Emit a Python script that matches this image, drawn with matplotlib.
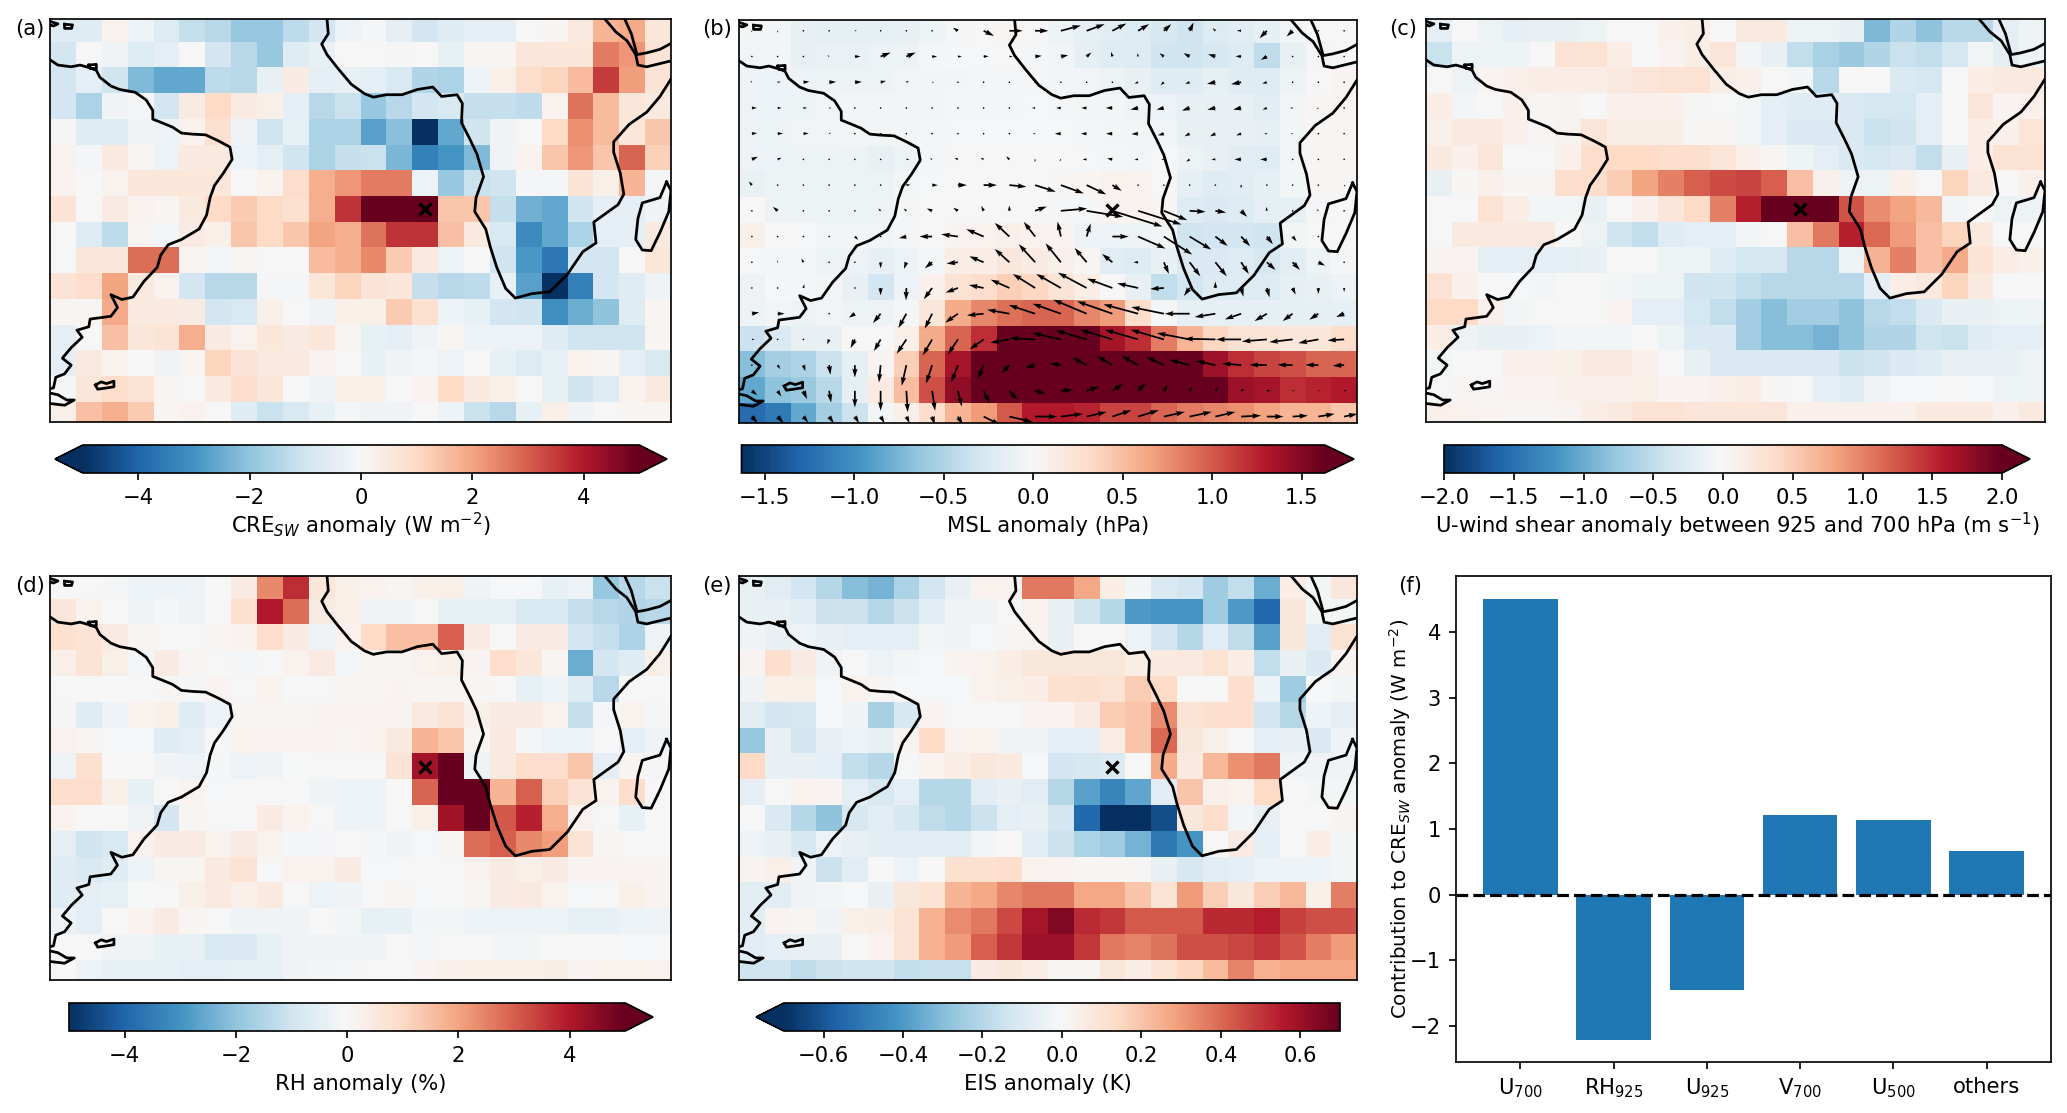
import numpy as np
import matplotlib
matplotlib.use('Agg')
import matplotlib.pyplot as plt

# values, rows from top to bottom
cre_sw = np.array([
    [-.6,-.6,.2,-.3,-.7,-1.2,-1.4,-1.9,-1.9,-1.3,-.9,-.3,-.1,-.5,-.9,-.6,-.5,-.5,0,.1,.5,1.7,1.9,.6],
    [-.9,0,-.2,-.7,-.5,0,-.9,-1.4,-1.9,-.6,-.4,0,0,-.1,0,-.4,.1,.1,.6,.6,.6,2.6,2.2,.7],
    [-.9,-.5,-1,-2.2,-2.6,-2.6,-1.3,-1.4,-.4,.4,-.5,-.4,-.5,-.8,-1.5,-1.6,-.3,.3,.9,1.1,1.6,3.5,2.1,.7],
    [-.9,-1.6,-.2,-.1,-.9,.4,1,.4,.3,-.5,-1.4,-1.1,-1.9,-1.4,-.9,-.8,-1.2,-1.2,-1.3,.2,2.7,1.6,.6,.5],
    [-.1,-.6,-.7,-.2,-.3,.2,.8,-.2,-1,-.4,-1.6,-1.6,-2.7,-2.1,-5,-2.6,-1,-.2,0,1,2.3,1.6,.6,1.4],
    [.2,-.1,.5,.1,-.3,.5,.5,-.3,-.5,-1,-1.6,-1.2,-1.1,-2.3,-3.4,-3,-2.2,-.2,.2,1.4,2.2,1.4,2.9,1.2],
    [.2,0,.2,.6,.6,.6,.6,0,.2,.9,1.8,2.2,2.6,2.6,-.3,-1.9,-1.1,-1,-.1,-.1,.7,.3,1.7,-.1],
    [.7,0,.4,.2,.1,.5,1,1.3,1,.8,1.8,3.6,5,5,5,1.4,1.4,-1.2,-2.4,-2.6,-1,-.5,-.5,-.2],
    [0,-.7,-1.3,.1,-.1,.4,.3,1.4,1,1.4,2,1.8,2.7,3.6,3.6,1.5,.5,-.8,-3.2,-2.6,-1.6,-.5,-.5,.5],
    [0,.6,.6,2.8,2.8,.1,-.1,.1,0,0,1.6,1.8,2.4,1.3,.5,-.3,0,-1,-2.9,-3.6,-.9,-.9,0,.6],
    [.7,.9,2,.5,.2,-.9,-1.4,-1.4,-.1,-.1,.6,1.1,.7,.6,-1.2,-1.4,-1.3,-.4,-2.7,-5,-3.4,-.9,-.6,-.3],
    [.1,.1,1.9,.5,.5,.4,-.9,-.8,.3,0,-.2,.3,.3,1.3,.8,-.3,-.4,-.9,-1,-3.1,-2.5,-2,-.6,.1],
    [-.5,0,1.5,.6,.7,1.8,.4,.2,.6,.4,.6,.1,-.4,-.5,-.2,.1,-.3,-.3,-.3,-.6,-1,-1,-1,.1],
    [-.5,.5,.2,0,-.2,.1,1.1,.7,.5,.5,.2,0,-.4,-.2,-.1,-.3,0,-.4,-.7,-.4,.2,.1,-.5,-.8],
    [-.1,.6,.9,.7,.1,0,.5,.9,.6,0,-.2,.3,.3,0,.2,1,.5,.3,0,-.4,-1,-.7,.2,.5],
    [.3,1.5,1.8,1.3,.1,.2,0,-.6,-1.1,-.8,-.4,-.1,-.2,-.2,0,-.3,-1.1,-1.4,-.4,.3,-.2,0,.1,.1],
])

msl = np.array([
    [-.05,-.05,-.12,-.15,-.15,-.15,-.12,-.08,-.03,0,.03,0,-.08,-.15,-.18,-.22,-.28,-.32,-.22,-.18,-.15,-.06,0,0],
    [-.06,-.05,-.12,-.11,-.11,-.09,-.08,-.03,-.02,-.02,0,-.03,-.06,-.15,-.2,-.22,-.32,-.32,-.27,-.22,-.42,-.12,-.03,0],
    [-.1,-.1,-.1,-.08,-.08,-.08,-.06,-.05,-.05,-.03,-.03,-.03,-.05,-.06,-.08,-.12,-.2,-.2,-.15,-.2,-.2,-.08,0,.04],
    [-.09,-.09,-.08,-.06,-.05,-.05,-.05,-.05,-.03,-.03,-.03,-.02,-.03,-.05,-.05,-.08,-.1,-.12,-.12,-.12,-.18,-.05,.02,.03],
    [-.09,-.08,-.06,-.06,-.05,-.05,-.05,-.03,-.02,-.02,-.02,-.02,-.02,-.03,-.05,-.05,-.06,-.12,-.12,-.12,-.15,-.05,.02,.03],
    [-.1,-.1,-.08,-.08,-.08,-.12,-.08,-.03,0,0,0,0,0,-.02,-.03,-.05,-.02,-.08,-.12,-.18,-.2,-.05,.02,.03],
    [-.12,-.08,-.08,-.08,-.08,-.08,-.05,-.02,0,0,0,0,.02,.03,.07,.07,0,-.15,-.2,-.18,-.15,-.05,.02,.02],
    [0,-.08,-.08,-.08,-.08,-.08,-.03,0,0,0,0,0,-.03,-.03,.04,.07,.03,-.22,-.25,-.22,-.15,-.15,-.03,0],
    [.1,0,-.02,-.05,-.05,-.06,-.03,0,.04,.07,.1,.07,.04,-.1,-.1,-.08,-.05,-.32,-.3,-.3,-.32,-.05,0,0],
    [-.02,-.03,-.03,-.08,-.1,-.15,-.09,-.03,.12,.12,.18,.14,.08,.02,-.18,-.22,-.12,-.25,-.25,-.22,-.27,-.18,-.08,-.03],
    [-.09,-.02,-.03,-.05,-.12,-.3,-.1,.08,.25,.3,.4,.35,.22,.12,0,-.12,-.4,-.3,-.22,-.22,-.22,-.15,-.12,-.09],
    [-.08,-.06,-.08,-.06,-.08,-.08,-.03,.2,.6,.8,.9,.95,.95,.8,.7,.3,-.03,-.15,-.15,-.15,-.15,-.15,-.15,-.15],
    [-.35,-.25,-.12,-.12,0,.01,.1,.6,.95,1.2,1.7,1.7,1.7,1.7,1.35,1.2,.85,.55,.35,.25,.22,.2,.2,.3],
    [-.7,-.55,-.5,-.35,-.15,.05,.4,.95,1.35,1.7,1.7,1.7,1.7,1.7,1.7,1.7,1.7,1.65,1.4,1.2,1.1,1.05,.95,.95],
    [-.85,-.65,-.6,-.45,-.15,.15,.5,1.05,1.45,1.7,1.7,1.7,1.7,1.7,1.7,1.7,1.7,1.7,1.7,1.4,1.35,1.2,1.25,1.3],
    [-1.25,-1.15,-.85,-.55,-.35,-.05,.1,.3,.55,.7,1,1.3,1.3,1.25,1.1,1.1,.95,.85,.8,.75,.65,.55,.55,.45],
])

# wind anomaly arrows of panel (b)
wind_u = np.array([
    [-.2,0,-.3,-.3,.6,.2,.1,.3,-1.5,3.1,4,4,6,5.4,4.2,3.3,2.2,1.2,-.8,-1.3,-2.2,-1.8,0,.2],
    [.2,-.1,-.4,-.5,1.7,3,2.8,1.5,1.2,1.5,1,2,2.2,1.4,-.4,-.2,-1.3,-1.8,-2.2,-1.7,-1.8,-.3,.2,.2],
    [-.5,.9,1.8,2.1,2.1,1.6,.8,.6,.2,.2,.2,.2,.2,.2,.5,-1.1,-1,-1.3,-2.5,-3,-1.4,.2,.1,.2],
    [1.5,1.2,1.1,.7,.2,.2,.3,.1,.3,.3,.3,-1,-1.4,-1.6,-2,-2.3,-2.2,-2.3,-2.4,-2.4,-1.3,-.8,-.5,.1],
    [1.6,1.6,1.6,.6,.3,.1,.1,.1,.2,.2,.3,-.7,-1.8,-1.7,-1.9,-2,-1.8,-1.5,-1.6,-1.5,-.8,-.6,.2,.2],
    [1.8,1.2,.3,.2,.4,.1,.9,-.7,-1,-.9,-1,-.1,-.4,-1.2,-1.6,-1.1,-.8,-1,-1.2,-2,-2,-.4,.2,.1],
    [-.9,.2,.3,.2,.1,.1,1.2,1.7,2.7,4,5.1,6.2,6.9,5.9,2.8,.2,.1,.1,.3,0,.3,.2,.2,.4],
    [.1,-1.4,.1,-.2,.2,-.7,-.8,-1.6,-1.4,-.7,0,3.5,7.9,11,15,13,7,4.8,3.2,1.8,-.2,.2,-.5,.1],
    [.1,-.1,-.2,.1,1,-.1,-2.2,-3.8,-5,-5.2,-4.4,-3.4,-1,1.2,4.9,8.2,8.5,6.5,3.7,2.7,1.8,1.2,.1,0],
    [.1,0,-.6,.2,.2,0,-.7,-2.2,-3.4,-4.3,-4.4,-4.9,-4.6,-3.6,-3.1,-1.4,1.5,3.2,3.4,2.3,2.6,2.2,2,.2],
    [.2,.2,.3,.2,.2,0,-.1,-2.5,-3.7,-4.4,-5.6,-6.7,-7.4,-8.6,-7.6,-6.3,-4.1,-1.7,0,.7,.8,.9,0,0],
    [2.2,2.1,.1,.1,-1.8,-2.3,-2.4,-2.2,-3.8,-5,-6.7,-7.9,-8.5,-10,-10.6,-10.4,-9.8,-7.5,-6.2,-4.9,-3.7,-3,-2.7,-2.4],
    [.8,.2,.1,-.6,-1.3,-2,-2.9,-2.8,-3,-4.2,-5.7,-7.7,-8.5,-9.3,-9.7,-10,-10,-9.8,-9.3,-7.5,-7.5,-7,-6,-5],
    [.2,.8,.6,.4,0,-.5,-1.4,-1.8,-2,-1.7,-2.4,-3,-3.4,-4.3,-4.7,-4.9,-5.3,-6,-5.8,-5.7,-5.2,-4.5,-3.9,-3.4],
    [1.6,1.1,1.1,.6,0,0,.4,.9,1.2,1.8,2.4,3.1,3.6,3.7,3.1,2.2,1.1,.8,.9,1,1.2,.7,.6,.8],
    [1.8,1.8,1.5,1.4,1.3,1.2,1,.8,1.5,5,7,6.6,6.6,6,5.7,6.2,6.3,6.6,6,6,5,4.6,4.9,4],
])
wind_v = np.array([
    [-.5,-.6,.4,.3,.1,.4,.3,0,.9,-1.5,0,0,1.6,2,2.2,2,2,2.5,.8,.1,-2.2,-1.7,0,-.4],
    [0,.3,.3,.4,0,1.2,1.2,0,0,.1,0,.2,.4,1.2,1.4,1,1,1,.7,.1,-1,-.3,0,0],
    [.4,.1,.2,.1,.1,.4,.4,0,0,0,0,0,0,0,0,-.4,-.9,-.5,-.5,-.6,-.4,0,0,0],
    [0,0,0,0,0,0,0,0,0,0,0,0,0,0,0,-.5,-.5,-.8,-.5,-.5,-.5,0,-.4,0],
    [.2,.1,.1,.3,0,0,0,0,0,0,0,0,0,0,0,-.1,-.5,-.8,-.8,-.5,0,0,0,0],
    [.8,.5,0,.2,0,0,0,.3,.5,.5,.9,-.8,-.6,0,.3,0,0,-.7,0,0,0,0,0,0],
    [1.1,0,.4,0,0,.3,.1,0,0,0,-.5,-2,-2.5,-2.8,-1.7,0,0,0,-.2,-1,-.4,0,0,-.5],
    [0,1.2,0,.2,0,.7,.7,.7,.9,1.5,1.6,1.3,.7,-1.8,-4.7,-4.1,-2.8,-.3,-.5,-1.8,1.2,0,.5,-.2],
    [0,.3,.4,0,-1,.1,-.5,0,.7,2.2,4.1,4.4,4.5,3.9,0,-3.6,-5.4,-3.9,-2.8,-2.9,-2.3,-1.4,0,-.5],
    [0,.6,1.1,0,0,-1.8,-2,-1.8,-.4,1.8,4,5.4,5.7,4.3,2.5,0,-3.5,-4.2,-4.2,-3.5,-2.3,-2.3,-1,0],
    [0,0,1.1,0,0,-2.2,-3.7,-3.4,-1.4,.9,2.5,4.2,4.2,4.6,2.8,1.4,-.3,-2.4,1.9,-2.6,-2.8,-2,-1.8,-1.2],
    [.4,0,0,0,-1.2,-2.8,-4.3,-4.5,-2.7,-.5,1.2,2.6,3,4.2,3.7,2.8,2,0,-1,-1.7,-2.2,-2.2,-1.8,-1],
    [0,-.1,0,-1.5,-2.6,-3.5,-4.3,-4.8,-4.5,-3,-1,.4,1.9,2.7,2.9,2.9,2.9,1.9,.2,0,-.6,-.8,-1.1,-.3],
    [0,-1.2,-1.8,-2.9,-3.7,-5.2,-6.2,-5.5,-5.2,-4.2,-2.5,-.7,.5,2.3,2.8,2.8,2.5,1.6,1.3,.5,.1,.1,.1,-.2],
    [-1.3,-1.7,-2.5,-3.5,-5,-6,-6.4,-6,-4.7,-3.8,-2.7,-.8,.3,1.3,2.1,2.3,1.9,1.3,1,.6,.2,.1,.1,.1],
    [-2,-2,-1.8,-2,-2,-2,-2,-2.5,-2.5,-2.5,-1.6,0,.8,1.4,1.9,1.9,1.4,1.4,1.4,.3,0,.3,.8,.8],
])

u_shear = np.array([
    [-.2,0,-.1,-.2,-.15,-.15,-.1,0,0,.1,.15,0,.2,.2,-.1,-.1,-.15,-.9,-.6,-.8,-.55,-.55,-.2,-.1],
    [-.45,-.1,-.1,-.1,0,.3,.3,.15,0,.05,.15,.25,-.05,-.15,-.5,-.65,-.75,-.6,-.45,-.5,-.35,-.05,-.2,-.1],
    [0,-.1,.05,.1,.15,.15,.15,.2,.25,.3,.3,.15,.1,0,-.05,-.55,0,0,-.3,-.35,0,.15,.2,.2],
    [.15,-.05,0,.1,.02,.05,0,.1,.1,.1,.02,0,-.05,-.2,-.25,-.25,-.3,-.35,-.35,-.2,0,.25,.05,.1],
    [.1,.2,.2,.1,.03,.07,.25,.13,.13,.13,.03,.03,-.05,-.2,-.3,-.3,-.3,-.45,-.4,-.2,0,.15,.1,.25],
    [.2,.1,.25,0,0,.1,.35,.4,.4,.35,.35,.25,.1,.03,-.1,-.2,-.3,-.35,-.3,-.5,-.15,.15,.3,.3],
    [-.15,.03,.1,.03,.03,.35,.35,.5,.8,1,1.2,1.3,1.35,1.2,.6,.1,-.1,-.1,.1,0,.45,.2,0,.1],
    [0,0,.3,.15,-.05,-.05,-.15,0,.1,.25,.4,1,1.55,2,2,2,1.25,.95,.8,.65,-.05,0,-.1,-.1],
    [0,.2,.2,.2,.2,0,-.1,-.4,-.5,-.25,-.2,-.2,-.05,0,.6,1.05,1.55,1.15,.85,.6,.45,.2,0,0],
    [.05,.05,-.2,-.2,-.2,-.2,-.15,0,0,-.1,-.1,-.25,-.35,-.35,-.55,-.55,-.1,.7,1,.6,.75,.3,.15,.1],
    [.3,.1,0,-.02,-.05,0,0,-.05,-.1,-.1,-.4,-.4,-.5,-.55,-.55,-.55,-.55,-.2,.15,.2,.45,.2,0,0],
    [.4,.4,.1,-.05,0,0,0,.05,-.2,-.2,-.35,-.5,-.7,-.85,-.7,-.7,-.8,-.55,-.5,-.3,-.15,-.15,-.1,-.1],
    [.15,-.1,-.15,-.15,-.12,-.05,-.05,-.05,0,-.1,-.3,-.3,-.7,-.85,-.85,-.95,-.8,-.6,-.6,-.4,-.45,-.25,-.2,-.2],
    [-.05,0,0,.1,.1,.12,.2,.2,.1,0,-.15,-.3,-.3,-.3,-.3,-.3,-.45,-.4,-.3,-.25,-.15,-.15,-.15,-.1],
    [0,.02,.02,.05,.05,.1,.1,.1,.12,.05,.05,.1,.15,.03,0,-.2,-.25,-.08,-.03,-.02,0,-.03,-.1,-.1],
    [.1,.08,.05,.03,.03,.05,.15,.2,.3,.3,.25,.25,.25,.25,.1,.1,.1,.1,.1,.2,.2,.2,.1,.2],
])

rh = np.array([
    [0,0,-.1,-.3,-.3,-.3,0,.4,2.4,3.7,.6,.3,.2,.1,.3,.3,-.2,-.05,-.05,-.4,-.3,-1.9,-1.4,-1.1],
    [.6,.2,0,-.2,-.1,-.3,0,.8,4,2.8,.4,.3,-.2,-.2,0,-.4,-.4,-.4,-.8,-.8,-1.2,-1.4,-1.5,-1.4],
    [.8,.7,.4,.1,0,0,.1,.2,.9,.4,-.3,.2,1,1.5,1.5,3,.4,0,.4,.4,-.9,-1.2,-1.6,-.3],
    [.3,.7,.3,-.1,.4,.1,0,-.1,0,.2,.4,-.1,.1,.1,.2,.3,.15,.9,.6,.1,-2.5,-.9,-.6,.3],
    [0,0,0,0,.05,-.1,.15,0,.2,0,0,.1,.1,.15,.1,.1,.1,0,-.4,-.3,-.6,-1.4,0,0],
    [-.1,-.6,-.3,.2,.3,-.6,-.3,.1,.1,.1,.15,.15,.15,.15,.5,.7,.25,.4,.4,.2,-1.2,-.1,.2,-.1],
    [.2,.05,-.05,-.05,-.6,-.5,-.05,.2,.15,.15,.15,.1,.2,.5,1.7,1.4,.1,.5,-.1,-.3,-.3,0,-.5,-.2],
    [-.3,.8,0,0,-.2,-.3,-.1,-.3,-.2,-.02,0,0,0,.7,4.2,5,-.2,.5,.9,.9,1.4,-.5,.1,-.1],
    [.9,.9,.3,-.4,0,.15,-.05,0,0,0,-.2,-.3,-.3,0,2.9,5,5,1.7,3,1.2,.7,.2,.9,0],
    [.2,0,0,-.2,-.9,.1,0,0,.4,.2,0,-.3,-.3,0,.3,4.2,5,3.1,3.9,1.8,.2,.02,-.4,0],
    [-.5,-1,-.8,.2,.4,.4,.2,.4,.2,-.1,-.1,0,-.1,-.2,-.05,.1,2.8,3,2.4,2.1,.7,.1,0,0],
    [-.6,-.8,-.6,-.3,.1,.1,.5,.7,0,.2,.2,.4,-.05,-.05,0,0,.2,.4,.3,.4,.15,.15,.15,.15],
    [-.6,-.5,-.4,-.02,0,.3,.5,.3,.5,0,-.3,-.2,0,.1,-.05,0,.1,.4,.5,.2,-.05,0,.3,.15],
    [-.3,-.5,0,.2,.4,.1,0,-.2,-.2,-.2,0,-.15,-.4,-.4,-.15,-.15,-.3,-.3,-.3,-.3,-.4,-.4,-.3,-.3],
    [-.05,0,-.2,-.2,-.4,-.4,-.8,-.75,-.4,-.2,-.2,-.2,-.2,0,-.1,0,0,-.15,-.15,0,0,0,-.05,-.05],
    [0,-.3,-.4,-.4,-.4,-.5,-.5,-.4,-.4,-.2,-.15,-.1,0,.02,.15,.25,.3,.3,.3,.35,.15,.2,.2,.2],
])

eis = np.array([
    [-.05,-.08,-.13,-.2,-.3,-.33,-.22,-.13,-.05,.03,.03,.37,.37,.27,.05,-.02,-.1,-.13,-.25,-.17,-.35,.05,-.02,.08],
    [-.05,-.05,-.08,-.15,-.15,-.2,-.15,-.08,-.03,-.03,0,.03,-.05,-.14,-.2,-.4,-.42,-.42,-.25,-.4,-.55,.08,-.02,-.02],
    [-.03,-.05,-.04,-.05,-.07,-.07,-.07,-.02,-.03,-.01,.01,.02,-.05,0,0,-.04,-.13,-.2,-.08,-.18,-.38,.08,-.08,.1],
    [.02,.12,.06,-.03,0,-.04,-.02,-.01,.02,.03,.05,.08,.08,.08,.08,.05,.07,.07,.1,.05,-.17,-.05,-.1,.02],
    [-.03,.04,.04,-.01,.03,.01,-.01,-.01,-.01,.03,.04,.05,.11,.12,.1,.18,.14,0,0,.12,-.04,-.25,-.01,-.02],
    [-.08,-.13,-.12,-.01,-.03,-.23,-.12,.02,-.01,0,0,.02,.02,.06,.18,.2,.33,.1,.12,.12,-.13,-.2,-.04,-.07],
    [-.27,-.05,-.13,-.05,-.04,-.05,.02,.14,.03,.03,-.03,-.03,-.07,-.07,.05,.2,.4,.08,.04,0,-.07,-.05,-.1,-.03],
    [.14,-.05,-.05,-.07,-.17,-.2,-.01,.03,.05,.08,.07,-.01,-.13,-.12,-.1,0,.26,.07,.23,.32,.37,-.03,-.03,-.03],
    [-.07,0,.03,.02,-.07,-.12,-.07,-.2,-.2,-.08,-.05,-.08,-.2,-.38,-.46,-.37,-.08,.2,.04,.03,.14,0,-.02,-.02],
    [-.01,-.1,-.2,-.28,-.12,-.08,-.12,-.18,-.2,-.15,-.07,-.05,-.13,-.55,-.7,-.7,-.62,.08,.13,-.02,-.05,0,0,.02],
    [-.04,-.05,-.12,-.04,-.05,-.08,-.08,-.08,-.08,-.02,0,-.08,-.15,-.22,-.25,-.33,-.5,-.42,0,.06,-.07,0,.05,-.02],
    [.02,.04,-.03,-.15,-.08,0,-.04,0,.11,.11,.13,.03,.02,.01,.01,.01,-.05,-.12,-.08,-.07,-.04,-.04,-.04,-.02],
    [-.08,-.08,-.03,-.02,-.01,-.05,.08,.1,.24,.27,.34,.37,.37,.27,.27,.2,.1,.3,.17,.08,.17,.23,.04,.36],
    [-.08,.02,.01,-.03,.04,.05,.1,.25,.33,.37,.46,.58,.65,.52,.5,.43,.43,.43,.53,.53,.55,.48,.45,.45],
    [-.08,-.07,-.05,-.05,0,.03,.1,.25,.3,.42,.5,.6,.6,.5,.37,.35,.38,.45,.45,.47,.5,.44,.36,.3],
    [-.14,-.14,-.18,-.15,-.14,-.14,-.17,-.16,-.16,.06,.08,.05,.01,.01,.08,.05,.1,.15,.22,.35,.25,.27,.27,.27],
])

bar_names = ['U$_{700}$', 'RH$_{925}$', 'U$_{925}$', 'V$_{700}$', 'U$_{500}$', 'others']
bar_values = [4.5, -2.21, -1.45, 1.21, 1.13, 0.67]

# coastlines, in panel pixels of a 1408x1155 box
south_america = [(0,117),(18,132),(48,137),(68,132),(88,139),(105,147),(113,167),(138,192),(158,202),(193,210),
    (218,232),(233,262),(233,287),(253,297),(278,310),(298,327),(323,330),(353,332),(383,350),(408,367),(413,402),
    (393,442),(373,477),(363,512),(355,562),(338,602),(298,632),(268,647),(251,677),(243,712),(213,752),(188,797),
    (163,804),(138,790),(153,827),(138,852),(91,860),(88,882),(61,892),(73,912),(48,942),(28,972),(48,992),(33,1017),
    (13,1027),(8,1057),(0,1060)]
fuego = [(0,1072),(18,1077),(38,1092),(55,1092),(33,1107),(0,1102)]
falkland = [(103,1049),(116,1040),(128,1045),(145,1038),(145,1054),(125,1058),(108,1061),(103,1049)]
carib1 = [(0,7),(18,14),(8,20),(0,17)]
carib2 = [(33,15),(51,17),(49,27),(33,27),(33,15)]
lake = [(88,132),(105,130),(105,142),(91,142),(88,132)]
africa = [(628,0),(631,42),(616,72),(628,102),(653,142),(683,187),(713,214),(733,224),(763,217),(798,217),(833,202),
    (868,195),(888,222),(923,217),(935,242),(933,297),(953,347),(968,387),(983,452),(966,512),(963,552),(988,602),
    (998,652),(1013,712),(1033,772),(1055,800),(1093,787),(1133,782),(1173,732),(1208,667),(1238,642),(1233,582),
    (1288,532),(1301,502),(1293,442),(1278,382),(1278,352),(1313,302),(1353,267),(1383,222),(1408,172)]
red_sea1 = [(1258,0),(1283,37),(1308,62),(1328,102),(1333,132),(1353,137),(1408,120)]
red_sea2 = [(1303,0),(1318,42),(1331,102),(1353,97),(1383,87),(1408,70)]
madagascar = [(1398,467),(1408,492),(1403,552),(1383,612),(1363,664),(1343,662),(1328,632),(1333,572),(1343,527),
    (1383,512),(1398,467)]
coasts = [south_america, fuego, falkland, carib1, carib2, lake, africa, red_sea1, red_sea2, madagascar]

W, H = 2067, 1113
DPI = 152
fig = plt.figure(figsize=(W / DPI, H / DPI), dpi=DPI)


def px_axes(x0, y0, x1, y1):
    return fig.add_axes([x0 / W, 1 - y1 / H, (x1 - x0) / W, (y1 - y0) / H])


x_edges = np.arange(25)
y_edges = np.r_[0, np.arange(15) + 0.88, 15.67]
x_mid = np.arange(24) + 0.5
y_mid = np.arange(16) + 0.42
# colorbar labels sit in the middle of the bar with its triangle
label_x = {'both': 0.5, 'max': 0.525, 'min': 0.475}


def map_panel(box, cbox, data, vlim, extend, label, ticks, tag):
    ax = px_axes(*box)
    mesh = ax.pcolormesh(x_edges, y_edges, data, cmap='RdBu_r', vmin=-vlim, vmax=vlim)
    ax.set_xlim(0, 24)
    ax.set_ylim(15.67, 0)
    ax.set_xticks([])
    ax.set_yticks([])
    for line in coasts:
        xs = [p[0] / 1408 for p in line]
        ys = [1 - p[1] / 1155 for p in line]
        ax.plot(xs, ys, color='k', lw=1.3, transform=ax.transAxes)
    ax.plot(14.5, 7.4, 'x', color='k', ms=6, mew=1.6, zorder=5)
    cax = px_axes(*cbox)
    cb = fig.colorbar(mesh, cax=cax, orientation='horizontal', extend=extend, ticks=ticks)
    cb.ax.set_xlabel(label, va='center')
    cb.ax.xaxis.set_label_coords(label_x[extend], -52.5 / 28)
    fig.text(tag[0] / W, 1 - tag[1] / H, tag[2], va='center', ha='left')
    return ax


ax_a = map_panel((50, 19, 671, 422), (55, 445, 667, 473), cre_sw, 5, 'both',
                 'CRE$_{SW}$ anomaly (W m$^{-2}$)', [-4, -2, 0, 2, 4], (15, 29, '(a)'))
ax_b = map_panel((739, 20, 1357, 423), (741.5, 445, 1354, 473), msl, 1.63, 'max',
                 'MSL anomaly (hPa)', [-1.5, -1, -.5, 0, .5, 1, 1.5], (702, 29, '(b)'))
ax_c = map_panel((1426, 19, 2045, 422), (1444, 445, 2030, 473), u_shear, 2, 'max',
                 'U-wind shear anomaly between 925 and 700 hPa (m s$^{-1}$)',
                 [-2, -1.5, -1, -.5, 0, .5, 1, 1.5, 2], (1389, 29, '(c)'))
ax_d = map_panel((50, 576, 671, 980), (69, 1003, 653, 1031), rh, 5, 'max',
                 'RH anomaly (%)', [-4, -2, 0, 2, 4], (15, 586, '(d)'))
ax_e = map_panel((739, 576, 1357, 980), (756, 1003, 1340, 1031), eis, 0.7, 'min',
                 'EIS anomaly (K)', [-.6, -.4, -.2, 0, .2, .4, .6], (702, 586, '(e)'))

ax_b.quiver(x_mid, y_mid, wind_u, wind_v, angles='uv', scale_units='inches', scale=45.6,
            units='inches', width=0.0115, zorder=4)

# bar panel
ax_f = px_axes(1456, 576, 2051, 1062)
ax_f.bar(range(len(bar_values)), bar_values, width=0.8, color='#1f77b4')
ax_f.axhline(0, color='k', ls='--', lw=1.5)
ax_f.set_xlim(-0.69, 5.69)
ax_f.set_ylim(-2.55, 4.85)
ax_f.set_xticks(range(len(bar_names)))
ax_f.set_xticklabels(bar_names)
ax_f.set_yticks([-2, -1, 0, 1, 2, 3, 4])
ax_f.set_ylabel('Contribution to CRE$_{SW}$ anomaly (W m$^{-2}$)', fontsize=9.4, labelpad=-1.5)
fig.text(1398 / W, 1 - 586 / H, '(f)', va='center', ha='left')

fig.savefig('out.png', dpi=DPI)
